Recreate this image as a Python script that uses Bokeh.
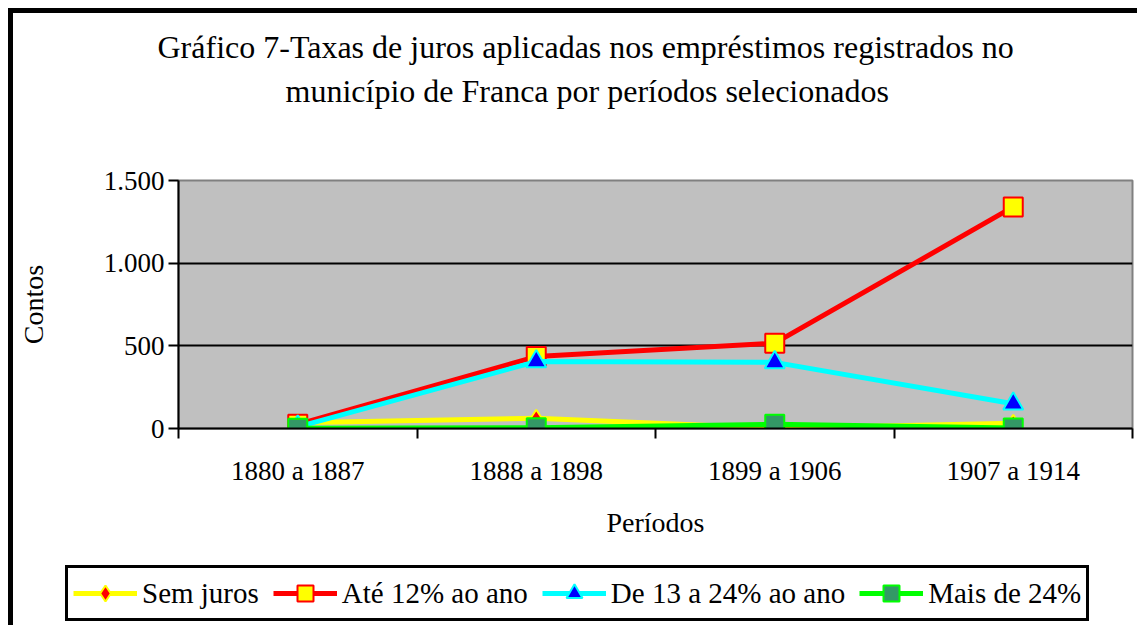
from bokeh.plotting import figure
from bokeh.layouts import column
from bokeh.models import (FixedTicker, Range1d, Legend, LegendItem, Title, ColumnDataSource)
from bokeh.embed import file_html
from bokeh.resources import INLINE

categories = ["1880 a 1887", "1888 a 1898", "1899 a 1906", "1907 a 1914"]
sem_juros = [35, 62, 2, 32]
ate_12 = [25, 435, 516, 1340]
de_13_24 = [10, 405, 400, 150]
mais_24 = [2, 5, 25, 3]
y_ticks = [0, 500, 1000, 1500]
y_tick_labels = ["0", "500", "1.000", "1.500"]

FONT = "Liberation Serif"
xs = [i + 0.5 for i in range(len(categories))]

p = figure(frame_width=954, frame_height=248, output_backend="svg", toolbar_location=None,
           x_range=Range1d(0, len(categories)), y_range=Range1d(0, 1500),
           min_border_left=165, min_border_right=5, min_border_top=167, min_border_bottom=0,
           background_fill_color="#C0C0C0", border_fill_color="white",
           outline_line_color="#808080", outline_line_width=2)

def title(text, size, standoff, offset=0):
    return Title(text=text, align="left", offset=offset, text_font=FONT,
                 text_font_size=size, text_font_style="normal", text_color="black",
                 standoff=standoff)

# above: nearest the frame first
p.add_layout(title("\u00a0", "1px", 66), "above")
p.add_layout(title("município de Franca por períodos selecionados", "32px", 6, 107), "above")
p.add_layout(title("Gráfico 7-Taxas de juros aplicadas nos empréstimos registrados no", "32px", 6, -21), "above")

# axes
p.xaxis.ticker = FixedTicker(ticks=xs, minor_ticks=list(range(len(categories) + 1)))
p.xaxis.major_label_overrides = {x: c for x, c in zip(xs, categories)}
p.yaxis.ticker = FixedTicker(ticks=y_ticks)
p.yaxis.major_label_overrides = {t: l for t, l in zip(y_ticks, y_tick_labels)}

for ax in (p.xaxis[0], p.yaxis[0]):
    ax.axis_line_color = "black"
    ax.axis_line_width = 2
    ax.major_tick_line_color = "black"
    ax.major_tick_line_width = 2
    ax.major_label_text_font = FONT
    ax.major_label_text_font_size = "27px"
    ax.major_label_text_color = "black"
    ax.axis_label_text_font = FONT
    ax.axis_label_text_font_size = "28px"
    ax.axis_label_text_font_style = "normal"
    ax.axis_label_text_color = "black"

p.xaxis.major_tick_out = 0
p.xaxis.major_tick_in = 0
p.xaxis.minor_tick_out = 10
p.xaxis.minor_tick_in = 0
p.xaxis.minor_tick_line_color = "black"
p.xaxis.minor_tick_line_width = 2
p.xaxis.major_label_standoff = 17
p.xaxis.axis_label = "Períodos"
p.xaxis.axis_label_standoff = 18

p.yaxis.major_tick_out = 10
p.yaxis.major_tick_in = 0
p.yaxis.minor_tick_out = 0
p.yaxis.minor_tick_in = 0
p.yaxis.major_label_standoff = 4
p.yaxis.axis_label = "Contos"
p.yaxis.axis_label_standoff = 52

p.xgrid.visible = False
p.ygrid.ticker = FixedTicker(ticks=y_ticks[1:-1])
p.ygrid.grid_line_color = "black"
p.ygrid.grid_line_width = 2

series = [
    ("Sem juros", sem_juros, "#FFFF00", "diamond", "#FF0000", "#FFFF00", 17),
    ("Até 12% ao ano", ate_12, "#FF0000", "square", "#FFFF00", "#FF0000", 19),
    ("De 13 a 24% ao ano", de_13_24, "#00FFFF", "triangle", "#0000FF", "#00FFFF", 20),
    ("Mais de 24%", mais_24, "#00FF00", "square", "#339966", "#00FF00", 19),
]

# legend strip below the chart (its renderers sit outside its visible ranges)
p_leg = figure(frame_width=1124, frame_height=85, output_backend="svg", toolbar_location=None,
               x_range=Range1d(100, 101), y_range=Range1d(10000, 10001),
               min_border=0, x_axis_location=None, y_axis_location=None,
               outline_line_color=None, background_fill_color="white", border_fill_color="white")
p_leg.grid.visible = False

items = []
for name, vals, lc, mk, fc, mlc, sz in series:
    src = ColumnDataSource(dict(x=xs, y=vals))
    p.line("x", "y", source=src, line_color=lc, line_width=5)
    p.scatter("x", "y", source=src, marker=mk, size=sz, fill_color=fc,
              line_color=mlc, line_width=2)
    lr = p_leg.line("x", "y", source=src, line_color=lc, line_width=5)
    sr = p_leg.scatter("x", "y", source=src, marker=mk, size=sz, fill_color=fc,
                       line_color=mlc, line_width=2)
    items.append(LegendItem(label=name, renderers=[lr, sr]))

legend = Legend(items=items, orientation="horizontal", location=(52, 4),
                label_text_font=FONT, label_text_font_size="29px", label_text_color="black",
                border_line_color="black", border_line_width=3, border_line_alpha=1,
                background_fill_color="white", background_fill_alpha=1,
                glyph_width=64, glyph_height=40,
                label_standoff=5, spacing=14, padding=5, margin=0)
p_leg.add_layout(legend, "center")

layout = column(p, p_leg, spacing=0,
                styles={"margin-left": "8px", "margin-top": "8px",
                        "border-left": "5px solid black", "border-top": "5px solid black"})

open("out.html", "w").write(file_html(layout, INLINE))
